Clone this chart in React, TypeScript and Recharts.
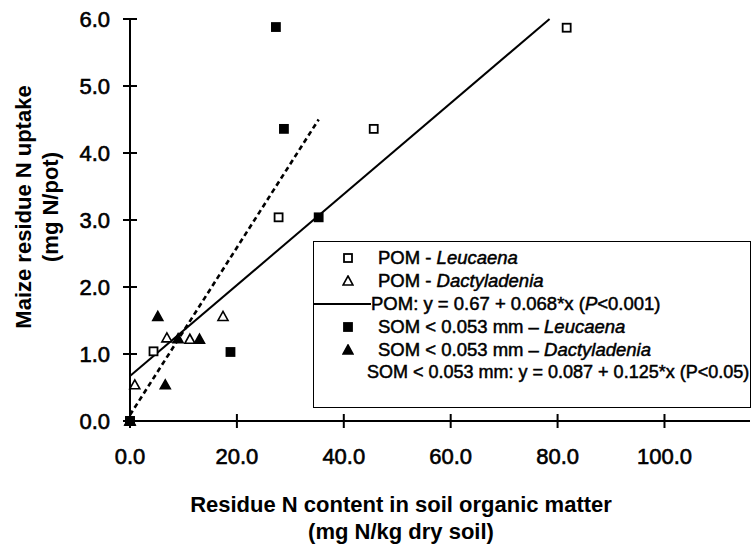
import React from "react";
import { ComposedChart, Scatter, Line, XAxis, YAxis, Legend, Label } from "recharts";

// open squares: POM - Leucaena
const pomLeucaenaX = [0, 4.4, 27.8, 45.6, 81.7];
const pomLeucaenaY = [0, 1.04, 3.04, 4.36, 5.87];
// open triangles: POM - Dactyladenia
const pomDactyX = [0, 0.9, 6.9, 11.2, 17.4];
const pomDactyY = [0, 0.54, 1.24, 1.22, 1.56];
// filled squares: SOM < 0.053 mm - Leucaena
const somLeucaenaX = [0, 18.8, 27.3, 28.8, 35.3];
const somLeucaenaY = [0, 1.03, 5.88, 4.36, 3.04];
// filled triangles: SOM < 0.053 mm - Dactyladenia
const somDactyX = [0, 5.2, 6.6, 9.0, 13.0];
const somDactyY = [0, 1.56, 0.54, 1.23, 1.22];
// fitted lines (end points)
const pomFitX = [0, 78.5];
const pomFitY = [0.67, 6.0];
const somFitX = [0, 35.3];
const somFitY = [0.09, 4.5];

const xTicks = [0, 20, 40, 60, 80, 100];
const yTicks = [0, 1, 2, 3, 4, 5, 6];

const toPoints = (xs: number[], ys: number[]) => xs.map((x, i) => ({ x, y: ys[i] }));

const pomLeucaena = toPoints(pomLeucaenaX, pomLeucaenaY);
const pomDacty = toPoints(pomDactyX, pomDactyY);
const somLeucaena = toPoints(somLeucaenaX, somLeucaenaY);
const somDacty = toPoints(somDactyX, somDactyY);
const pomFit = toPoints(pomFitX, pomFitY);
const somFit = toPoints(somFitX, somFitY);

const FONT = "'Liberation Sans', Arial, Helvetica, sans-serif";
const Y_MARGIN = 20;
const X_MARGIN = 27;

const Square = ({ cx, cy, filled }: any) => (
    <rect x={cx - 4} y={cy - 4} width={8} height={8} fill={filled ? "#000" : "#fff"} stroke="#000" strokeWidth={1.8} />
);

const Triangle = ({ cx, cy, filled }: any) => (
    <path
        d={`M${cx},${cy - 5} L${cx + 5},${cy + 4} L${cx - 5},${cy + 4} Z`}
        fill={filled ? "#000" : "#fff"}
        stroke="#000"
        strokeWidth={1.6}
    />
);

const YTick = ({ x, y, payload }: any) => {
    const ax = x + Y_MARGIN;
    return (
        <g>
            <line x1={ax - 7} x2={ax + 7} y1={y} y2={y} stroke="#000" strokeWidth={2} />
            <text x={x} y={y} dy="0.35em" textAnchor="end" fontFamily={FONT} fontSize={22} fill="#000" stroke="#000" strokeWidth={0.6}>
                {Number(payload.value).toFixed(1)}
            </text>
        </g>
    );
};

const XTick = ({ x, y, payload }: any) => {
    const ay = y - X_MARGIN;
    return (
        <g>
            <line x1={x} x2={x} y1={ay - 7} y2={ay + 7} stroke="#000" strokeWidth={2} />
            <text x={x} y={y} dy="0.71em" textAnchor="middle" fontFamily={FONT} fontSize={22} fill="#000" stroke="#000" strokeWidth={0.6}>
                {Number(payload.value).toFixed(1)}
            </text>
        </g>
    );
};

const LegendBox = () => {
    const row: React.CSSProperties = { height: 23, display: "flex", alignItems: "center", whiteSpace: "nowrap" };
    const sym: React.CSSProperties = { width: 60, display: "flex", justifyContent: "center", paddingLeft: 4 };
    const txt: React.CSSProperties = { fontSize: 18.5, WebkitTextStroke: "0.5px #000" };
    return (
        <div
            style={{
                width: 438,
                height: 167,
                boxSizing: "border-box",
                border: "1.5px solid #000",
                background: "#fff",
                fontFamily: FONT,
                color: "#000",
                paddingTop: 4,
            }}
        >
            <div style={row}>
                <div style={sym}>
                    <svg width={12} height={12}><rect x={2} y={2} width={8} height={8} fill="#fff" stroke="#000" strokeWidth={1.8} /></svg>
                </div>
                <span style={txt}>POM - <i>Leucaena</i></span>
            </div>
            <div style={row}>
                <div style={sym}>
                    <svg width={12} height={12}><path d="M6,1 L11,10 L1,10 Z" fill="#fff" stroke="#000" strokeWidth={1.6} /></svg>
                </div>
                <span style={txt}>POM - <i>Dactyladenia</i></span>
            </div>
            <div style={row}>
                <div style={{ width: 57, display: "flex", alignItems: "center" }}>
                    <svg width={57} height={4}><line x1={0} x2={57} y1={2} y2={2} stroke="#000" strokeWidth={2} /></svg>
                </div>
                <span style={txt}>POM: y = 0.67 + 0.068*x (<i>P</i>&lt;0.001)</span>
            </div>
            <div style={row}>
                <div style={sym}>
                    <svg width={12} height={12}><rect x={2} y={2} width={8} height={8} fill="#000" stroke="#000" strokeWidth={1.8} /></svg>
                </div>
                <span style={txt}>SOM &lt; 0.053 mm – <i>Leucaena</i></span>
            </div>
            <div style={row}>
                <div style={sym}>
                    <svg width={12} height={12}><path d="M6,1 L11,10 L1,10 Z" fill="#000" stroke="#000" strokeWidth={1.6} /></svg>
                </div>
                <span style={txt}>SOM &lt; 0.053 mm – <i>Dactyladenia</i></span>
            </div>
            <div style={row}>
                <div style={{ width: 53 }} />
                <span style={{ fontSize: 18, WebkitTextStroke: "0.5px #000" }}>SOM &lt; 0.053 mm: y = 0.087 + 0.125*x (P&lt;0.05)</span>
            </div>
        </div>
    );
};

export default function App() {
    return (
        <div style={{ position: "absolute", left: 0, top: 0, width: 753, height: 546, background: "#fff" }}>
            <ComposedChart width={753} height={546} margin={{ top: 19, right: 3, bottom: 0, left: 0 }}>
                <XAxis
                    type="number"
                    dataKey="x"
                    domain={[0, 116]}
                    ticks={xTicks}
                    interval={0}
                    height={125}
                    tickSize={0}
                    tickMargin={X_MARGIN}
                    axisLine={{ stroke: "#000", strokeWidth: 2 }}
                    tickLine={false}
                    tick={<XTick />}
                >
                    <Label
                        content={() => (
                            <g fontFamily={FONT} fontSize={22} fontWeight="bold" fill="#000">
                                <text x={401} y={512} textAnchor="middle">Residue N content in soil organic matter</text>
                                <text x={401} y={539} textAnchor="middle">(mg N/kg dry soil)</text>
                            </g>
                        )}
                    />
                </XAxis>
                <YAxis
                    type="number"
                    dataKey="y"
                    domain={[0, 6]}
                    ticks={yTicks}
                    interval={0}
                    width={130}
                    tickSize={0}
                    tickMargin={Y_MARGIN}
                    axisLine={{ stroke: "#000", strokeWidth: 2 }}
                    tickLine={false}
                    tick={<YTick />}
                >
                    <Label
                        content={() => (
                            <g fontFamily={FONT} fontSize={22} fontWeight="bold" fill="#000">
                                <text x={31} y={207} textAnchor="middle" transform="rotate(-90 31 207)">Maize residue N uptake</text>
                                <text x={58} y={207} textAnchor="middle" transform="rotate(-90 58 207)">(mg N/pot)</text>
                            </g>
                        )}
                    />
                </YAxis>
                <Legend
                    layout="horizontal"
                    verticalAlign="middle"
                    content={() => <LegendBox />}
                    wrapperStyle={{ left: 313, top: 241, width: 438, height: 167 }}
                />
                <Line data={pomFit} dataKey="y" stroke="#000" strokeWidth={2} dot={false} activeDot={false} isAnimationActive={false} legendType="none" />
                <Line data={somFit} dataKey="y" stroke="#000" strokeWidth={2.6} strokeDasharray="5 3.5" dot={false} activeDot={false} isAnimationActive={false} legendType="none" />
                <Scatter data={pomLeucaena} shape={(p: any) => <Square {...p} />} isAnimationActive={false} />
                <Scatter data={pomDacty} shape={(p: any) => <Triangle {...p} />} isAnimationActive={false} />
                <Scatter data={somLeucaena} shape={(p: any) => <Square {...p} filled />} isAnimationActive={false} />
                <Scatter data={somDacty} shape={(p: any) => <Triangle {...p} filled />} isAnimationActive={false} />
            </ComposedChart>
        </div>
    );
}
